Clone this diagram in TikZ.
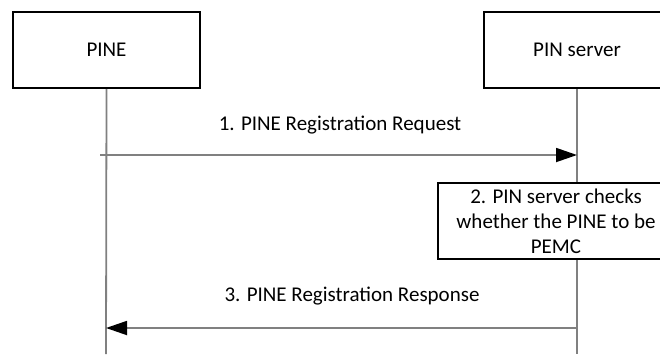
\documentclass[tikz,border=0pt]{standalone}
\usepackage{fontspec}
\setmainfont{Carlito}
\usetikzlibrary{arrows.meta}

\tikzset{
    entity/.style={draw, line width=2pt, minimum width=187pt, minimum height=76pt,
        font=\fontsize{21}{25}\selectfont},
    stepbox/.style={draw, fill=white, line width=2pt, minimum width=236pt, minimum height=76pt,
        align=center, font=\fontsize{21}{25}\selectfont},
    lifeline/.style={draw=gray, line width=1.8pt},
    msg/.style={draw=gray, line width=1.8pt, -{Triangle[length=21pt, width=14pt, color=black]}},
    msglabel/.style={font=\fontsize{21}{25}\selectfont},
}

\begin{document}
\begin{tikzpicture}[x=1pt, y=-1pt]

\clip (0, 0) rectangle (660, 354);

% entities
\node [entity] (pine) at (106.5, 50) {PINE};
\node [entity] (server) at (577, 50) {PIN server};


% lifelines
\coordinate (pine end) at (106, 354);
\coordinate (server end) at (577, 354);
\begin{scope}
    \draw [lifeline] (pine.south)--(pine end);
    \draw [lifeline] (server.south)--(server end);
\end{scope}


% messages
\coordinate (req start) at (100, 155);
\coordinate (req end) at (577, 155);
\coordinate (resp start) at (577, 328);
\coordinate (resp end) at (106, 328);

\draw [msg] (req start) to (req end);
\node [msglabel] (req label) at (340, 125) {1. PINE Registration Request};

\node [stepbox] (check) at (556, 221) {2. PIN server checks\\whether the PINE to be\\PEMC};

\draw [msg] (resp start) to (resp end);
\node [msglabel] (resp label) at (352, 296) {3. PINE Registration Response};

\end{tikzpicture}
\end{document}
